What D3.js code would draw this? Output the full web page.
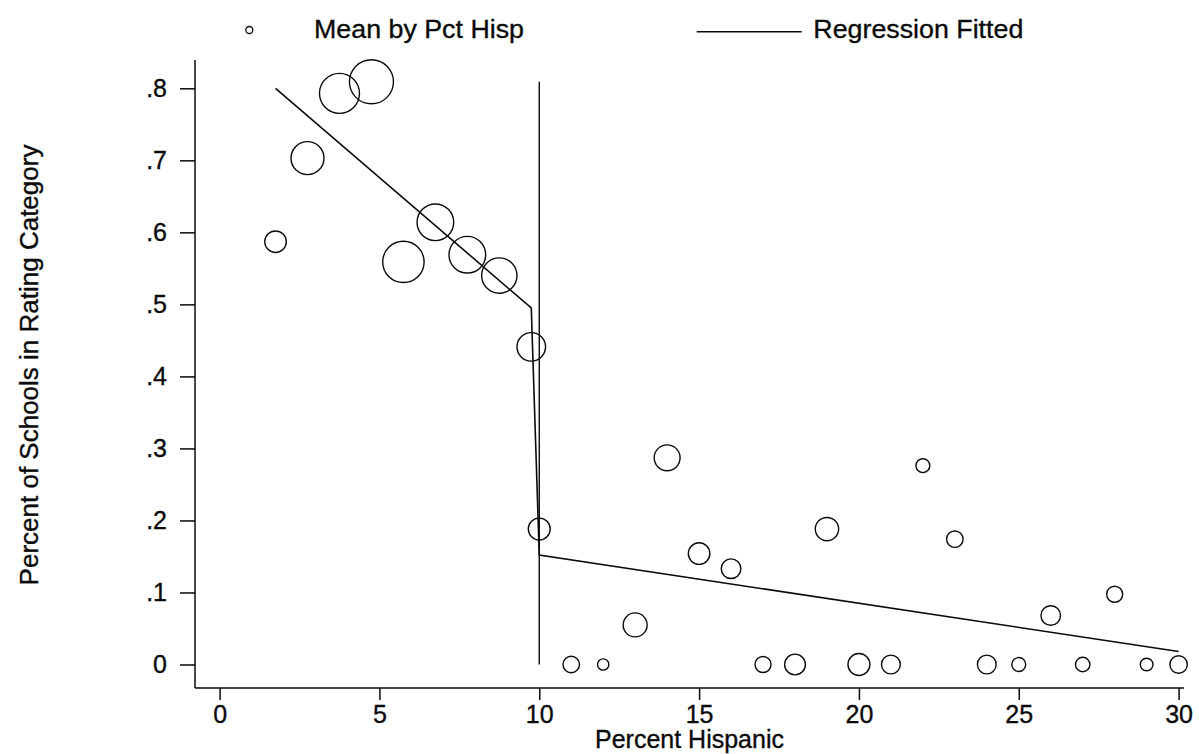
<!DOCTYPE html>
<html>
<head>
<meta charset="utf-8">
<script src="https://cdn.jsdelivr.net/npm/d3@7"></script>
<style>
  html, body { margin: 0; padding: 0; background: #fff; }
  svg { display: block; }
  text { font-family: "Liberation Sans", Arial, Helvetica, sans-serif; fill: #0a0a0a; stroke: #0a0a0a; stroke-width: 0.35; }
</style>
</head>
<body>
<svg id="chart" width="1199" height="754"></svg>
<script>
// ---- data ----
const pctHisp = [1.75, 2.75, 3.75, 4.75, 5.75, 6.75, 7.75, 8.75, 9.75, 10,
                 11, 12, 13, 14, 15, 16, 17, 18, 19, 20,
                 21, 22, 23, 24, 25, 26, 27, 28, 29, 30];
const meanShare = [0.587, 0.703, 0.793, 0.809, 0.559, 0.614, 0.569, 0.540, 0.441, 0.188,
                   0, 0, 0.055, 0.287, 0.154, 0.133, 0, 0, 0.188, 0,
                   0, 0.276, 0.174, 0, 0, 0.068, 0, 0.0975, 0, 0];
const nSchools = [29, 68, 100, 121, 107, 84, 84, 78, 51, 30,
                  17, 8, 36, 42, 29, 24, 16, 27, 34, 30,
                  22, 12, 17, 22, 12, 24, 13, 16, 10, 19];
const fitX = [1.75, 9.75, 10, 30];
const fitY = [0.800, 0.495, 0.152, 0.018];
const cutoffX = 10;
const cutoffTop = 0.809;
const xTicks = [0, 5, 10, 15, 20, 25, 30];
const yTicks = [0, 0.1, 0.2, 0.3, 0.4, 0.5, 0.6, 0.7, 0.8];
const yTickLabels = ["0", ".1", ".2", ".3", ".4", ".5", ".6", ".7", ".8"];
const legendLabels = ["Mean by Pct Hisp", "Regression Fitted"];
const xTitle = "Percent Hispanic";
const yTitle = "Percent of Schools in Rating Category";

// ---- layout ----
const svg = d3.select("#chart");
const axisLeftX = 195, axisBottomY = 688, axisTopY = 60, axisRightX = 1184;
const x = d3.scaleLinear().domain([0, 30]).range([219.6, 1178.6]);
const y = d3.scaleLinear().domain([0, 0.8]).range([664.5, 88.3]);
const r = d3.scaleSqrt().domain([0, 121]).range([0, 22]);
const ink = "#0a0a0a";

// y axis
const yAxis = d3.axisLeft(y).tickValues(yTicks)
  .tickFormat((d, i) => yTickLabels[i]).tickSize(15).tickPadding(13);
const gy = svg.append("g").attr("transform", `translate(${axisLeftX},0)`).call(yAxis);
gy.select(".domain").remove();
gy.selectAll(".tick line").attr("stroke", ink).attr("stroke-width", 1.5);
gy.selectAll(".tick text").attr("font-size", 25).attr("fill", ink)
  .style("font-family", '"Liberation Sans", Arial, sans-serif');
svg.append("line").attr("x1", axisLeftX).attr("x2", axisLeftX)
  .attr("y1", axisTopY).attr("y2", axisBottomY).attr("stroke", ink).attr("stroke-width", 1.5);

// x axis
const xAxis = d3.axisBottom(x).tickValues(xTicks).tickFormat(d3.format("d"))
  .tickSize(12).tickPadding(5);
const gx = svg.append("g").attr("transform", `translate(0,${axisBottomY})`).call(xAxis);
gx.select(".domain").remove();
gx.selectAll(".tick line").attr("stroke", ink).attr("stroke-width", 1.5);
gx.selectAll(".tick text").attr("font-size", 25).attr("fill", ink)
  .style("font-family", '"Liberation Sans", Arial, sans-serif');
svg.append("line").attr("x1", axisLeftX).attr("x2", axisRightX)
  .attr("y1", axisBottomY).attr("y2", axisBottomY).attr("stroke", ink).attr("stroke-width", 1.5);

// titles
svg.append("text").attr("x", (axisLeftX + axisRightX) / 2).attr("y", 748)
  .attr("text-anchor", "middle").attr("font-size", 25).text(xTitle);
svg.append("text").attr("transform", "translate(38,365) rotate(-90)")
  .attr("text-anchor", "middle").attr("font-size", 26).text(yTitle);

// cutoff line
svg.append("line").attr("x1", x(cutoffX)).attr("x2", x(cutoffX))
  .attr("y1", y(cutoffTop)).attr("y2", y(0)).attr("stroke", ink).attr("stroke-width", 1.4);

// regression fitted
const fitData = fitX.map((d, i) => [d, fitY[i]]);
svg.append("path").datum(fitData)
  .attr("d", d3.line().x(d => x(d[0])).y(d => y(d[1])))
  .attr("fill", "none").attr("stroke", ink).attr("stroke-width", 1.6);

// means (weighted markers)
const pts = pctHisp.map((d, i) => ({ x: d, y: meanShare[i], n: nSchools[i] }));
svg.append("g").selectAll("circle").data(pts).join("circle")
  .attr("cx", d => x(d.x)).attr("cy", d => y(d.y)).attr("r", d => r(d.n))
  .attr("fill", "none").attr("stroke", ink).attr("stroke-width", 1.4);

// legend
const leg = svg.append("g");
leg.append("circle").attr("cx", 249.3).attr("cy", 30).attr("r", 3.5)
  .attr("fill", "none").attr("stroke", ink).attr("stroke-width", 1.3);
leg.append("text").attr("x", 314).attr("y", 38.3).attr("font-size", 26)
  .attr("textLength", 210).attr("lengthAdjust", "spacingAndGlyphs").text(legendLabels[0]);
leg.append("line").attr("x1", 696.7).attr("x2", 801.7).attr("y1", 31.7).attr("y2", 31.7)
  .attr("stroke", ink).attr("stroke-width", 1.5);
leg.append("text").attr("x", 813.3).attr("y", 38.3).attr("font-size", 26)
  .attr("textLength", 210).attr("lengthAdjust", "spacingAndGlyphs").text(legendLabels[1]);
</script>
</body>
</html>
